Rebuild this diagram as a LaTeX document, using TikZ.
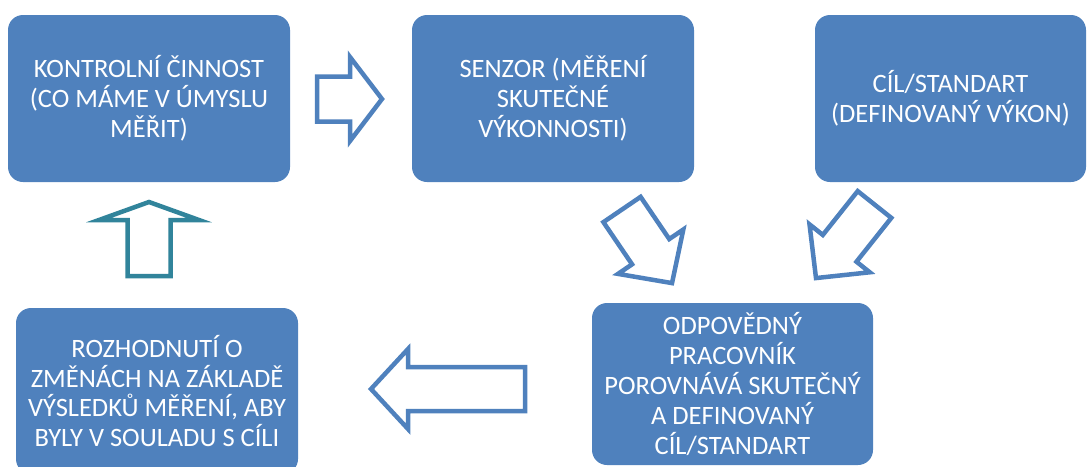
\documentclass[tikz,border=0pt]{standalone}
\usepackage{fontspec}
\setmainfont{Carlito}
\definecolor{boxblue}{HTML}{4F81BD}
\definecolor{arrowblue}{HTML}{4F81BD}
\definecolor{upteal}{HTML}{31849B}

\tikzset{
  stepbox/.style={rectangle, rounded corners=15pt, fill=boxblue, text=white,
    align=center, inner sep=0pt, font=\fontsize{26.5}{29.8}\selectfont},
  flowarrow/.style={draw=arrowblue, fill=white, line width=4.5pt},
  % block arrow: length, shaft width, head width, head length; tail at origin, pointing along +x
  pics/blockarrow/.style n args={4}{code={
    \draw[pic actions] (0,{-#2/2}) -- ({#1-#4},{-#2/2}) -- ({#1-#4},{-#3/2})
      -- (#1,0) -- ({#1-#4},{#3/2}) -- ({#1-#4},{#2/2}) -- (0,{#2/2}) -- cycle;
  }}
}

\begin{document}
\begin{tikzpicture}[x=1pt,y=-1pt]
  \useasboundingbox (0,0) rectangle (1087,466);
  \clip (0,0) rectangle (1087,466);

  % boxes
  \node[stepbox, minimum width=282pt, minimum height=167pt] (activity) at (149,98.5)
    {KONTROLNÍ ČINNOST\\(CO MÁME V ÚMYSLU\\MĚŘIT)};
  \node[stepbox, minimum width=282pt, minimum height=167pt] (sensor) at (553,98.5)
    {SENZOR (MĚŘENÍ\\SKUTEČNÉ\\VÝKONNOSTI)};
  \node[stepbox, minimum width=271pt, minimum height=167pt] (target) at (950.5,98.5)
    {CÍL/STANDART\\(DEFINOVANÝ VÝKON)};
  \node[stepbox, minimum width=282pt, minimum height=166pt] (decision) at (157,391)
    {ROZHODNUTÍ O\\ZMĚNÁCH NA ZÁKLADĚ\\VÝSLEDKŮ MĚŘENÍ, ABY\\BYLY V SOULADU S CÍLI};
  \node[stepbox, minimum width=281pt, minimum height=162pt] (compare) at (732.5,384)
    {ODPOVĚDNÝ\\PRACOVNÍK\\POROVNÁVÁ SKUTEČNÝ\\A DEFINOVANÝ\\CÍL/STANDART};

  % block arrows between the boxes
  \pic[flowarrow] (a1) at (317,99) {blockarrow={65}{45}{84}{32}};
  \pic[flowarrow, rotate=-55.8] (a2) at (622,209.5) {blockarrow={89}{45}{79}{38}};
  \pic[flowarrow, rotate=-128.5] (a3) at (874.5,204.5) {blockarrow={94}{43}{77}{38}};
  \pic[flowarrow, rotate=180] (a4) at (525,389) {blockarrow={154}{44}{80}{37}};
  \pic[flowarrow, draw=upteal, rotate=90] (a5) at (149,276) {blockarrow={74}{43}{100}{18}};
\end{tikzpicture}
\end{document}
